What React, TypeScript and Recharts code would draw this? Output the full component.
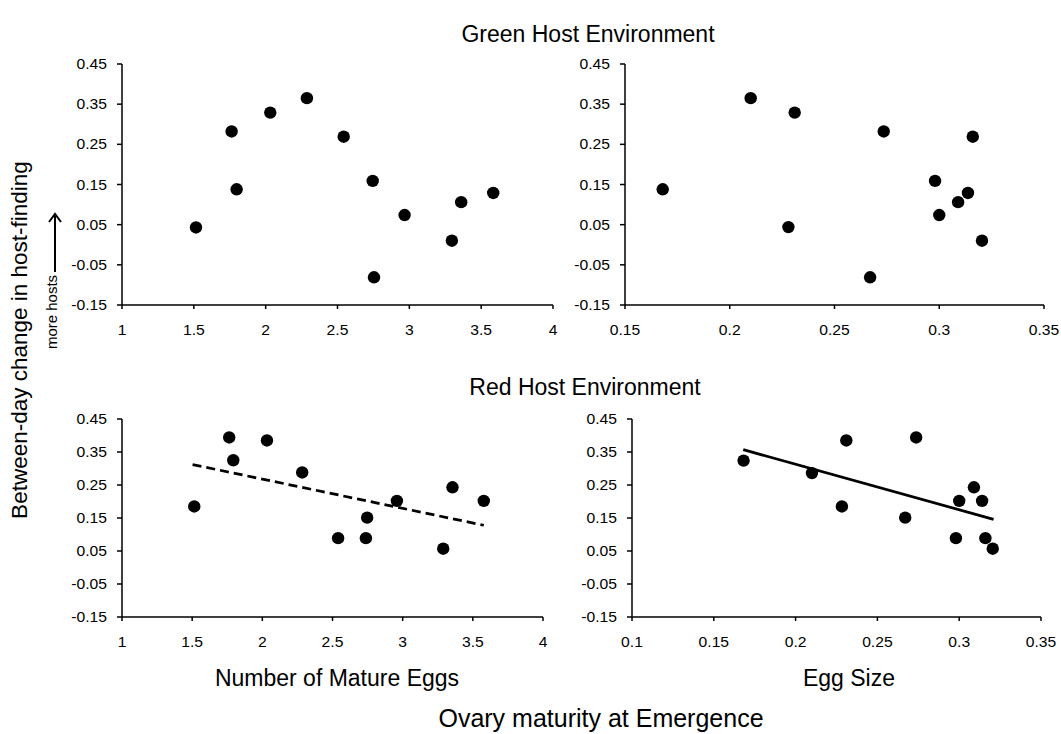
import { ScatterChart, Scatter, XAxis, YAxis } from "recharts";

// Green host environment
const greenEggsX = [1.515, 1.763, 1.798, 2.032, 2.287, 2.543, 2.745, 2.754, 2.967, 3.296, 3.361, 3.584];
const greenEggsY = [0.043, 0.282, 0.138, 0.329, 0.365, 0.269, 0.159, -0.081, 0.074, 0.01, 0.106, 0.129];
const greenSizeX = [0.168, 0.21, 0.231, 0.228, 0.2735, 0.267, 0.298, 0.3, 0.309, 0.3137, 0.316, 0.3204];
const greenSizeY = [0.138, 0.365, 0.329, 0.044, 0.282, -0.081, 0.159, 0.074, 0.106, 0.129, 0.269, 0.01];

// Red host environment
const redEggsX = [1.515, 1.764, 1.793, 2.033, 2.284, 2.54, 2.747, 2.738, 2.959, 3.289, 3.355, 3.578];
const redEggsY = [0.185, 0.394, 0.325, 0.385, 0.288, 0.089, 0.151, 0.089, 0.202, 0.057, 0.243, 0.202];
const redSizeX = [0.1682, 0.21, 0.231, 0.2283, 0.2737, 0.267, 0.298, 0.3, 0.309, 0.314, 0.316, 0.3205];
const redSizeY = [0.324, 0.286, 0.385, 0.185, 0.394, 0.151, 0.089, 0.202, 0.243, 0.202, 0.089, 0.057];

// fitted lines (end points)
const redEggsTrendX = [1.503, 3.578];
const redEggsTrendY = [0.312, 0.128];
const redSizeTrendX = [0.168, 0.321];
const redSizeTrendY = [0.357, 0.146];

const yTicks = [-0.15, -0.05, 0.05, 0.15, 0.25, 0.35, 0.45];
const eggsTicks = [1, 1.5, 2, 2.5, 3, 3.5, 4];
const sizeTicksTop = [0.15, 0.2, 0.25, 0.3, 0.35];
const sizeTicksBottom = [0.1, 0.15, 0.2, 0.25, 0.3, 0.35];

const FONT = "'Liberation Sans', Arial, sans-serif";

const zip = (xs: number[], ys: number[]) => xs.map((x, i) => ({ x, y: ys[i] }));

const Dot = (p: any) => <circle cx={p.cx} cy={p.cy} r={6.2} fill="#000" />;
const NoDot = () => <g />;

// tick labels in the source look a bit wide, so stretch them sideways
const XTick = ({ x, y, payload }: any) => (
  <g transform={`translate(${x},${y})`}>
    <text transform="scale(1.12,1)" textAnchor="middle" y={10} fontSize={14} fontFamily={FONT} fill="#000">
      {String(payload.value)}
    </text>
  </g>
);
const YTick = ({ x, y, payload }: any) => (
  <g transform={`translate(${x},${y})`}>
    <text transform="scale(1.12,1)" textAnchor="end" y={5} fontSize={14} fontFamily={FONT} fill="#000">
      {String(payload.value)}
    </text>
  </g>
);

interface PanelProps {
  left: number;
  top: number;
  w: number;
  h: number;
  xs: number[];
  ys: number[];
  xTicks: number[];
  trend?: { xs: number[]; ys: number[]; dashed: boolean };
}

function Panel({ left, top, w, h, xs, ys, xTicks, trend }: PanelProps) {
  const yw = 62;
  const xh = 40;
  return (
    <div style={{ position: "absolute", left: left - yw, top: top - 10 }}>
      <ScatterChart width={yw + w + 20} height={10 + h + xh} margin={{ top: 10, right: 20, bottom: 0, left: 0 }}>
        <XAxis
          type="number"
          dataKey="x"
          domain={[xTicks[0], xTicks[xTicks.length - 1]]}
          ticks={xTicks}
          interval={0}
          height={xh}
          tickSize={4}
          tickMargin={16}
          tick={<XTick />}
          axisLine={{ stroke: "#000", strokeWidth: 1.5 }}
          tickLine={{ stroke: "#000", strokeWidth: 1.5 }}
        />
        <YAxis
          type="number"
          dataKey="y"
          domain={[-0.15, 0.45]}
          ticks={yTicks}
          interval={0}
          width={yw}
          tickSize={5}
          tickMargin={10}
          tick={<YTick />}
          axisLine={{ stroke: "#000", strokeWidth: 1.5 }}
          tickLine={{ stroke: "#000", strokeWidth: 1.5 }}
        />
        {trend && (
          <Scatter
            data={zip(trend.xs, trend.ys)}
            line={{ stroke: "#000", strokeWidth: 2.75, strokeDasharray: trend.dashed ? "9 5" : undefined }}
            shape={NoDot}
            isAnimationActive={false}
          />
        )}
        <Scatter data={zip(xs, ys)} shape={Dot} isAnimationActive={false} />
      </ScatterChart>
    </div>
  );
}

export default function App() {
  return (
    <div style={{ position: "absolute", left: 0, top: 0, width: 1061, height: 734, background: "#fff", fontFamily: FONT }}>
      <svg width={1061} height={734} style={{ position: "absolute", left: 0, top: 0 }}>
        <g fontFamily={FONT} fill="#000" textAnchor="middle" dominantBaseline="central">
          <text x={588} y={34} fontSize={23}>Green Host Environment</text>
          <text x={585} y={387} fontSize={23}>Red Host Environment</text>
          <text x={337} y={678} fontSize={23}>Number of Mature Eggs</text>
          <text x={849} y={678} fontSize={23}>Egg Size</text>
          <text x={601} y={718} fontSize={25}>Ovary maturity at Emergence</text>
          <text x={19} y={340} fontSize={22.5} transform="rotate(-90 19 340)">Between-day change in host-finding</text>
          <text x={51} y={312} fontSize={15} transform="rotate(-90 51 312)">more hosts</text>
        </g>
        <line x1={55} y1={272} x2={55} y2={216} stroke="#000" strokeWidth={2} />
        <path d="M49 222 L55 214 L61 222" fill="none" stroke="#000" strokeWidth={2} />
      </svg>
      <Panel left={122} top={64} w={431} h={241} xs={greenEggsX} ys={greenEggsY} xTicks={eggsTicks} />
      <Panel left={625} top={64} w={419} h={241} xs={greenSizeX} ys={greenSizeY} xTicks={sizeTicksTop} />
      <Panel
        left={122}
        top={419}
        w={421}
        h={198}
        xs={redEggsX}
        ys={redEggsY}
        xTicks={eggsTicks}
        trend={{ xs: redEggsTrendX, ys: redEggsTrendY, dashed: true }}
      />
      <Panel
        left={632}
        top={419}
        w={409}
        h={198}
        xs={redSizeX}
        ys={redSizeY}
        xTicks={sizeTicksBottom}
        trend={{ xs: redSizeTrendX, ys: redSizeTrendY, dashed: false }}
      />
    </div>
  );
}
